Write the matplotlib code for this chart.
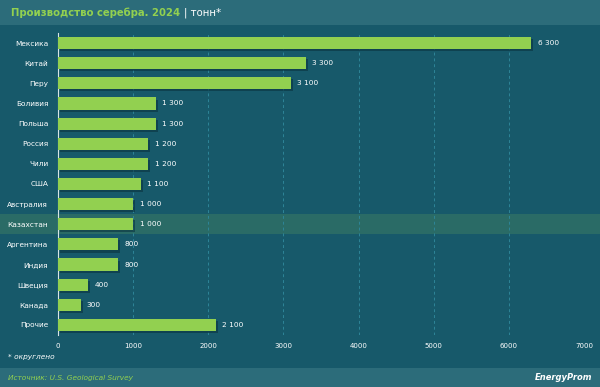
import matplotlib
matplotlib.use('Agg')
from matplotlib import pyplot as plt
from matplotlib import patheffects as pe
from matplotlib.patches import Rectangle

countries = ['Мексика', 'Китай', 'Перу', 'Боливия', 'Польша', 'Россия', 'Чили', 'США',
             'Австралия', 'Казахстан', 'Аргентина', 'Индия', 'Швеция', 'Канада', 'Прочие']
values = [6300, 3300, 3100, 1300, 1300, 1200, 1200, 1100, 1000, 1000, 800, 800, 400, 300, 2100]
xticks = [0, 1000, 2000, 3000, 4000, 5000, 6000, 7000]
highlight = 'Казахстан'

bg = '#17596a'
band = '#2c6c7a'
green = '#92d050'

fig = plt.figure(figsize=(6, 3.87), dpi=100)
fig.set_facecolor(bg)

# header and footer bands
fig.patches.append(Rectangle((0, 1 - 25 / 387), 1, 25 / 387, transform=fig.transFigure,
                             facecolor=band, edgecolor='none', zorder=0))
fig.patches.append(Rectangle((0, 0), 1, 19 / 387, transform=fig.transFigure,
                             facecolor=band, edgecolor='none', zorder=0))

ax = fig.add_axes((58 / 600, 1 - 335 / 387, 526 / 600, 302 / 387))
ax.set_facecolor('none')
ax.set_zorder(2)
ypos = list(range(len(countries)))

ax.set_xlim(0, 7000)
ax.set_ylim(len(countries) - 0.5, -0.5)

# highlighted row spans the full figure width
hi = countries.index(highlight)
y0 = ax.transData.transform((0, hi + 0.5))[1] / fig.bbox.height
y1 = ax.transData.transform((0, hi - 0.5))[1] / fig.bbox.height
fig.patches.append(Rectangle((0, y0), 1, y1 - y0, transform=fig.transFigure,
                             facecolor='#2a6b66', edgecolor='none', zorder=0))

bars = ax.barh(ypos, values, height=0.6, color=green, zorder=3)
for b in bars:
    b.set_path_effects([pe.SimplePatchShadow(offset=(1.5, -1.5), shadow_rgbFace='#0b3440', alpha=0.6),
                        pe.Normal()])

for y, v in zip(ypos, values):
    ax.text(v + 85, y, f'{v:,}'.replace(',', ' '), va='center', ha='left',
            color='white', fontsize=5.3, zorder=4)

ax.set_yticks(ypos)
ax.set_yticklabels(countries, color='white', fontsize=5.3)
ax.set_xticks(xticks)
ax.set_xticklabels([str(t) for t in xticks], color='white', fontsize=5)
ax.tick_params(axis='x', length=0, pad=6)
ax.tick_params(axis='y', length=0, pad=7)

for x in xticks[1:]:
    ax.axvline(x, color='#2e8598', lw=0.7, ls=(0, (3, 3)), zorder=1)

for s in ['top', 'right', 'bottom']:
    ax.spines[s].set_visible(False)
ax.spines['left'].set_color('#d8e4e8')
ax.spines['left'].set_linewidth(0.8)

t1 = fig.text(11 / 600, 1 - 13 / 387, 'Производство серебра. 2024', color=green,
              fontsize=7.3, fontweight='bold', va='center', ha='left')
fig.canvas.draw()
bb = t1.get_window_extent()
fig.text((bb.x1 + 4) / 600, 1 - 13 / 387, '| тонн*', color='white',
         fontsize=7.3, va='center', ha='left')
fig.text(8 / 600, 1 - 357 / 387, '* округлено', color='white', fontsize=5.3,
         style='italic', va='center', ha='left')
fig.text(8 / 600, 1 - 378 / 387, 'Источник: U.S. Geological Survey', color=green,
         fontsize=5.3, style='italic', va='center', ha='left')
fig.text(592 / 600, 1 - 378 / 387, 'EnergyProm', color='white', fontsize=6,
         style='italic', fontweight='bold', va='center', ha='right')

fig.savefig('out.png', dpi=100, facecolor=fig.get_facecolor())
